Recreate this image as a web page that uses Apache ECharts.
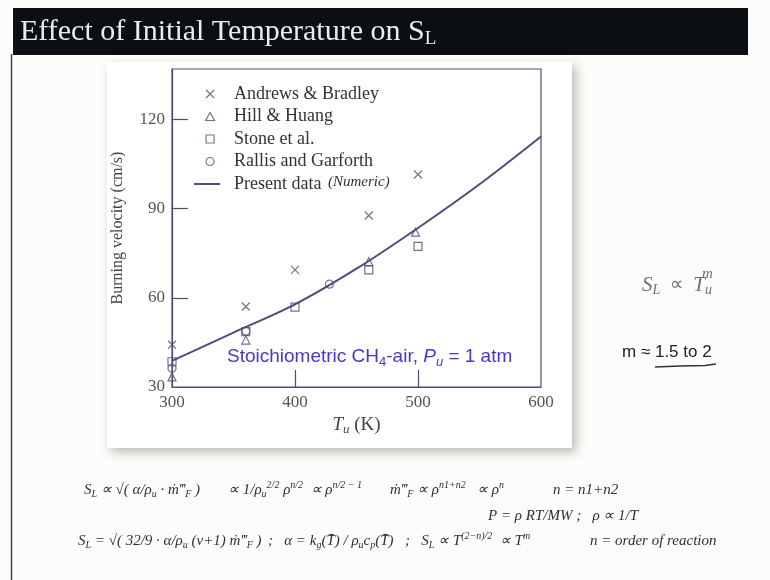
<!DOCTYPE html>
<html><head><meta charset="utf-8">
<script src="https://cdn.jsdelivr.net/npm/echarts@6/dist/echarts.min.js"></script>
<style>html,body{margin:0;padding:0;background:#fcfcfa}#c{width:770px;height:580px}</style>
</head><body><div id="c"></div>
<script>
// ---- data ----
const tempAB = [300, 360, 400, 460, 500];
const velAB  = [44.2, 57.1, 69.4, 87.7, 101.5];
const tempHH = [300, 360, 460, 498];
const velHH  = [33.4, 45.8, 72.2, 82.1];
const tempST = [300, 360, 400, 460, 500];
const velST  = [38.5, 48.6, 56.9, 69.4, 77.3];
const tempRG = [300, 360, 428];
const velRG  = [36.3, 48.8, 64.6];
const tempPD = [300, 350, 400, 450, 500, 550, 600];
const velPD  = [38.8, 48.3, 57.8, 69.8, 83.5, 98.2, 114.3];
const xTickLabels = [300, 400, 500, 600];
const xInnerTicks = [400, 500];
const yTickLabels = [30, 60, 90, 120];
const yInnerTicks = [60, 90, 120];
const seriesNames = ['Andrews & Bradley', 'Hill & Huang', 'Stone et al.', 'Rallis and Garforth', 'Present data'];

const C = '#4f4d78';
const SERIF = '"Liberation Serif", "Times New Roman", serif';
const SANS = '"Liberation Sans", Arial, sans-serif';
const BLUE = '#4a35d0';
const HAND = '#2e332e';
const X_PATH = 'path://M0,0L10,10M10,0L0,10';
const TRI_PATH = 'path://M5,0L10,9L0,9Z';
const SQ_PATH = 'path://M0,0H10V10H0Z';
const CIR_PATH = 'path://M10,5A5,5 0 1 1 0,5A5,5 0 1 1 10,5Z';
const LINE_PATH = 'path://M0,0H26V2H0Z';
const hollow = {color: 'transparent', borderColor: C, borderWidth: 1.2};

function pairs(xs, ys) { return xs.map((x, i) => [x, ys[i]]); }

const handRich = {
  h:  {fontFamily: SERIF, fontStyle: 'italic', fontSize: 15, fill: HAND, lineHeight: 19},
  hs: {fontFamily: SERIF, fontStyle: 'italic', fontSize: 10, fill: HAND, lineHeight: 10, verticalAlign: 'bottom'},
  hp: {fontFamily: SERIF, fontStyle: 'italic', fontSize: 10, fill: HAND, lineHeight: 10, verticalAlign: 'top'}
};
function hand(x, y, text) {
  return {type: 'text', x: x, y: y, z: 5, style: {text: text, rich: handRich, verticalAlign: 'middle'}};
}

const chart = echarts.init(document.getElementById('c'), null, {renderer: 'canvas'});
chart.setOption({
  backgroundColor: '#fcfcfa',
  animation: false,
  grid: {left: 172, top: 69, width: 369, height: 318, show: true, borderColor: C, borderWidth: 1.2, backgroundColor: 'transparent'},
  xAxis: {
    type: 'value', min: 300, max: 600, interval: 100,
    name: '{i|T}{s|u}{n| (K)}', nameLocation: 'middle', nameGap: 27,
    nameTextStyle: {rich: {
      i: {fontFamily: SERIF, fontStyle: 'italic', fontSize: 19, color: '#444', lineHeight: 22},
      s: {fontFamily: SERIF, fontStyle: 'italic', fontSize: 13, color: '#444', lineHeight: 13, verticalAlign: 'bottom'},
      n: {fontFamily: SERIF, fontSize: 19, color: '#444', lineHeight: 22}
    }},
    axisLine: {show: true, lineStyle: {color: C, width: 1.2}},
    axisTick: {show: true, inside: true, length: 17, customValues: xInnerTicks, lineStyle: {color: C, width: 1.2}},
    axisLabel: {customValues: xTickLabels, margin: 7, fontFamily: SERIF, fontSize: 17, color: '#555'},
    splitLine: {show: false}
  },
  yAxis: {
    type: 'value', min: 30, max: 137, interval: 30,
    name: 'Burning velocity (cm/s)', nameLocation: 'middle', nameGap: 46, nameRotate: 90,
    nameTextStyle: {fontFamily: SERIF, fontSize: 16, color: '#444'},
    axisLine: {show: true, lineStyle: {color: C, width: 1.2}},
    axisTick: {show: true, inside: true, length: 16, customValues: yInnerTicks, lineStyle: {color: C, width: 1.2}},
    axisLabel: {customValues: yTickLabels, margin: 7, fontFamily: SERIF, fontSize: 17, color: '#555'},
    splitLine: {show: false}
  },
  legend: [{
    orient: 'vertical', left: 200, top: 80, itemWidth: 38, itemHeight: 8, itemGap: 4.5,
    selectedMode: false, symbolKeepAspect: true,
    textStyle: {fontFamily: SERIF, fontSize: 18, color: '#333', lineHeight: 18},
    data: [
      {name: seriesNames[0], icon: X_PATH, itemStyle: hollow},
      {name: seriesNames[1], icon: TRI_PATH, itemStyle: hollow},
      {name: seriesNames[2], icon: SQ_PATH, itemStyle: hollow},
      {name: seriesNames[3], icon: CIR_PATH, itemStyle: hollow}
    ]
  }, {
    orient: 'vertical', left: 189, top: 170, itemWidth: 26, itemHeight: 14,
    selectedMode: false, formatter: '  {name}', symbolKeepAspect: true,
    textStyle: {fontFamily: SERIF, fontSize: 18, color: '#333', lineHeight: 18},
    data: [{name: seriesNames[4], icon: LINE_PATH, itemStyle: {color: C, borderWidth: 0}}]
  }],
  series: [
    {name: seriesNames[0], type: 'scatter', symbol: X_PATH, symbolSize: [8, 8], itemStyle: hollow, data: pairs(tempAB, velAB), z: 3},
    {name: seriesNames[1], type: 'scatter', symbol: 'triangle', symbolSize: [8, 8], itemStyle: hollow, data: pairs(tempHH, velHH), z: 3},
    {name: seriesNames[2], type: 'scatter', symbol: 'rect', symbolSize: [8, 8], itemStyle: hollow, data: pairs(tempST, velST), z: 3},
    {name: seriesNames[3], type: 'scatter', symbol: 'circle', symbolSize: [8, 8], itemStyle: hollow, data: pairs(tempRG, velRG), z: 3},
    {name: seriesNames[4], type: 'line', smooth: 0.3, symbol: 'none', lineStyle: {color: C, width: 2}, itemStyle: {color: C}, data: pairs(tempPD, velPD), z: 2}
  ],
  graphic: [
    // slide title bar
    {type: 'rect', shape: {x: 13, y: 8, width: 735, height: 47}, style: {fill: '#0b0f14'}, z: -10},
    {type: 'line', shape: {x1: 11.5, y1: 54, x2: 11.5, y2: 580}, style: {stroke: '#444', lineWidth: 1.5}, z: -10},
    {type: 'text', x: 20, y: 32, z: 5, style: {
      text: '{t|Effect of Initial Temperature on S}{s|L}', verticalAlign: 'middle',
      rich: {
        t: {fontFamily: SERIF, fontSize: 30, fill: '#ececec', lineHeight: 34},
        s: {fontFamily: SERIF, fontSize: 19, fill: '#ececec', lineHeight: 19, verticalAlign: 'bottom'}
      }}},
    // figure backdrop with shadow
    {type: 'rect', shape: {x: 107, y: 62, width: 465, height: 386}, style: {fill: '#ffffff', shadowBlur: 10, shadowColor: 'rgba(60,70,50,0.35)', shadowOffsetX: 4, shadowOffsetY: 4}, z: -9},
    // handwritten "(Numeric)"
    {type: 'text', x: 328, y: 182, z: 5, style: {text: '(Numeric)', fontFamily: SERIF, fontStyle: 'italic', fontSize: 15, fill: HAND, verticalAlign: 'middle'}},
    // annotation
    {type: 'text', x: 227, y: 357, z: 5, style: {
      text: '{a|Stoichiometric CH}{s|4}{a|-air, }{i|P}{si|u}{a| = 1 atm}', verticalAlign: 'middle',
      rich: {
        a: {fontFamily: SANS, fontSize: 19, fill: BLUE, lineHeight: 23},
        i: {fontFamily: SANS, fontStyle: 'italic', fontSize: 19, fill: BLUE, lineHeight: 23},
        s: {fontFamily: SANS, fontSize: 13, fill: BLUE, lineHeight: 13, verticalAlign: 'bottom'},
        si: {fontFamily: SANS, fontStyle: 'italic', fontSize: 13, fill: BLUE, lineHeight: 13, verticalAlign: 'bottom'}
      }}},
    // right side formula
    {type: 'text', x: 642, y: 285, z: 5, style: {
      text: '{i|S}{s|L}{n|  ∝  }{i|T}{s|u}', verticalAlign: 'middle',
      rich: {
        i: {fontFamily: SERIF, fontStyle: 'italic', fontSize: 21, fill: '#707070', lineHeight: 24},
        n: {fontFamily: SERIF, fontSize: 19, fill: '#707070', lineHeight: 24},
        s: {fontFamily: SERIF, fontStyle: 'italic', fontSize: 14, fill: '#707070', lineHeight: 14, verticalAlign: 'bottom'}
      }}},
    {type: 'text', x: 702, y: 274, z: 5, style: {text: 'm', fontFamily: SERIF, fontStyle: 'italic', fontSize: 15, fill: '#707070', verticalAlign: 'middle'}},
    {type: 'text', x: 622, y: 352, z: 5, style: {text: 'm ≈ 1.5 to 2', fontFamily: SANS, fontSize: 17, fill: '#222', verticalAlign: 'middle'}},
    {type: 'polyline', shape: {points: [[655, 367], [680, 366], [705, 365.5], [716, 364]]}, style: {stroke: '#333', lineWidth: 1.6, fill: 'none'}, z: 5},
    // handwritten derivation
    hand(84, 490, '{h|S}{hs|L}{h| ∝ √( α/ρ}{hs|u}{h| · ṁ‴}{hs|F}{h| )}'),
    hand(228, 490, '{h|∝ 1/ρ}{hs|u}{hp|2/2}{h| ρ}{hp|n/2}{h|  ∝ ρ}{hp|n/2 − 1}'),
    hand(390, 490, '{h|ṁ‴}{hs|F}{h| ∝ ρ}{hp|n1+n2}{h|   ∝ ρ}{hp|n}'),
    hand(553, 490, '{h|n = n1+n2}'),
    hand(488, 516, '{h|P = ρ RT/MW ;   ρ ∝ 1/T}'),
    hand(78, 541, '{h|S}{hs|L}{h| = √( 32/9 · α/ρ}{hs|u}{h| (ν+1) ṁ‴}{hs|F}{h| )}'),
    hand(268, 541, '{h|;   α = k}{hs|g}{h|(T̄) / ρ}{hs|u}{h|c}{hs|p}{h|(T̄)}'),
    hand(405, 541, '{h|;   S}{hs|L}{h| ∝ T}{hp|(2−n)/2}{h|  ∝ T}{hp|m}'),
    hand(590, 541, '{h|n = order of reaction}')
  ]
});
</script>
</body></html>
